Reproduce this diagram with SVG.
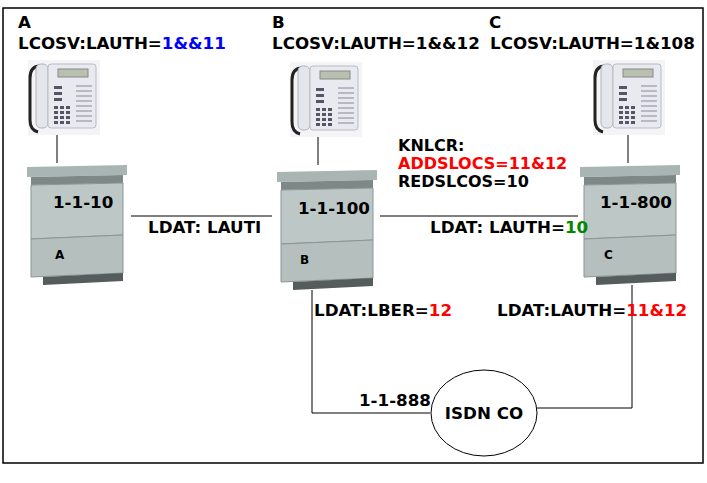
<svg xmlns="http://www.w3.org/2000/svg" width="707" height="483" viewBox="0 0 707 483">
<defs>
<style>
text{font-family:"DejaVu Sans","Liberation Sans",sans-serif;font-weight:bold;fill:#000}
.t{font-size:16.7px}
.k{font-size:16px}
.s{font-size:12px}
.r{fill:#f00}.b{fill:#00f}.g{fill:#080}
.ln{stroke:#000;stroke-width:1;fill:none}
</style>
<g id="phone">
<rect x="0" y="0" width="72" height="75" fill="#f4f4f6"/>
<path d="M12,6 q-10,0 -10,12 v42 q0,10 8,12" fill="none" stroke="#222" stroke-width="3"/>
<rect x="8" y="4" width="12" height="64" rx="5" fill="#e4e6ec" stroke="#b0b4bc"/>
<rect x="20" y="4" width="48" height="64" rx="3" fill="#e8eaef" stroke="#b8bcc4"/>
<rect x="30" y="9" width="30" height="8" fill="#b8c0b0" stroke="#888"/>
<g fill="#556">
<rect x="26" y="26" width="8" height="3"/><rect x="26" y="32" width="8" height="3"/><rect x="26" y="38" width="8" height="3"/>
<rect x="26" y="46" width="4" height="3"/><rect x="32" y="46" width="4" height="3"/><rect x="38" y="46" width="4" height="3"/>
<rect x="26" y="51" width="4" height="3"/><rect x="32" y="51" width="4" height="3"/><rect x="38" y="51" width="4" height="3"/>
<rect x="26" y="56" width="4" height="3"/><rect x="32" y="56" width="4" height="3"/><rect x="38" y="56" width="4" height="3"/>
<rect x="26" y="61" width="4" height="3"/><rect x="32" y="61" width="4" height="3"/><rect x="38" y="61" width="4" height="3"/>
</g>
<path d="M48,26 h16 M48,31 h16 M48,36 h16 M48,41 h16 M48,46 h16 M48,51 h16 M48,56 h16 M48,61 h16" stroke="#889" stroke-width="1.2"/>
</g>
<g id="cab">
<rect x="0" y="0" width="104" height="122" fill="#fff"/>
<path d="M2,4 L102,2 L102,12 L2,14 Z" fill="#a9b5b3"/>
<path d="M6,14 L98,12 L98,20 L6,22 Z" fill="#7d8887"/>
<path d="M6,22 L98,20 L98,72 L6,76 Z" fill="#bcc7c6" stroke="#8a9594"/>
<path d="M6,76 L98,72 L98,110 L6,114 Z" fill="#b4bfbe" stroke="#8a9594"/>
<path d="M18,114 L98,110 L98,118 L18,122 Z" fill="#555c5c"/>
</g>
</defs>
<rect x="3" y="8" width="700" height="455" fill="#fff" stroke="#000" stroke-width="1.5"/>
<g id="connectors" class="ln">
<path d="M57,135 V165"/>
<path d="M318,130 V165"/>
<path d="M628,128 V165"/>
<path d="M131,216 H272"/>
<path d="M380,216 H580"/>
<path d="M312,290 V413 H430"/>
<path d="M632,285 V408 H537"/>
</g>
<g id="phoneA"><use href="#phone" x="28" y="60"/></g>
<g id="phoneB"><use href="#phone" x="290" y="62"/></g>
<g id="phoneC"><use href="#phone" x="593" y="60"/></g>
<text class="t" x="148" y="233">LDAT: LAUTI</text>
<g id="nodeA"><use href="#cab" x="25" y="163"/><text class="t" x="53" y="208">1-1-10</text><text class="s" x="55" y="259">A</text></g>
<g id="nodeB"><use href="#cab" x="275" y="168"/><text class="t" x="298" y="214">1-1-100</text><text class="s" x="300" y="264">B</text></g>
<g id="nodeC"><use href="#cab" x="578" y="163"/><text class="t" x="600" y="208">1-1-800</text><text class="s" x="604" y="259">C</text></g>
<text class="t" x="430" y="233">LDAT: LAUTH=<tspan class="g">10</tspan></text>
<g id="isdn"><ellipse cx="484" cy="413" rx="53" ry="43" fill="#fff" stroke="#000"/><text class="t" x="484" y="419" text-anchor="middle">ISDN CO</text></g>
<text class="t" x="18" y="28">A</text>
<text class="t" x="18" y="49">LCOSV:LAUTH=<tspan class="b">1&amp;&amp;11</tspan></text>
<text class="t" x="272" y="28">B</text>
<text class="t" x="272" y="49">LCOSV:LAUTH=1&amp;&amp;12</text>
<text class="t" x="489" y="28">C</text>
<text class="t" x="490" y="49">LCOSV:LAUTH=1&amp;108</text>
<text class="k" x="398" y="151">KNLCR:</text>
<text class="k r" x="398" y="169">ADDSLOCS=11&amp;12</text>
<text class="k" x="398" y="187">REDSLCOS=10</text>
<text class="t" x="314" y="316">LDAT:LBER=<tspan class="r">12</tspan></text>
<text class="t" x="497" y="316">LDAT:LAUTH=<tspan class="r">11&amp;12</tspan></text>
<text class="t" x="359" y="406">1-1-888</text>
</svg>
